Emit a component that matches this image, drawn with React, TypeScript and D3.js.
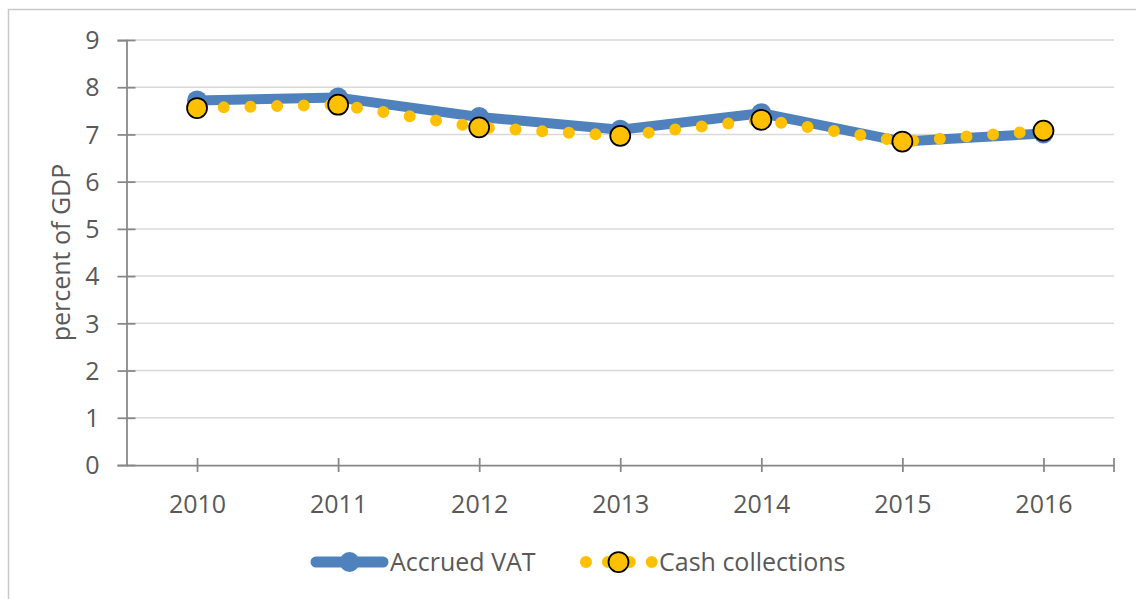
import React, { useRef, useEffect } from "react";
import * as d3 from "d3";

const years = ["2010", "2011", "2012", "2013", "2014", "2015", "2016"];
const accruedVat = [7.72, 7.78, 7.37, 7.1, 7.45, 6.85, 7.02];
const cashCollections = [7.56, 7.63, 7.15, 6.97, 7.31, 6.85, 7.08];
const yTicks = [0, 1, 2, 3, 4, 5, 6, 7, 8, 9];

const BLUE = "#4f81bd";
const GOLD = "#ffc000";
const TEXT = "#595959";
const FONT = "'Open Sans', sans-serif";

const App = () => {
  const svgRef = useRef<SVGSVGElement | null>(null);

  const width = 1136,
    height = 599;
  // plot area
  const left = 126.5,
    right = 1114,
    top = 40,
    bottom = 465;

  useEffect(() => {
    const svg = d3.select(svgRef.current);
    svg.selectAll("*").remove();

    // chart frame (only top / left edges are visible)
    svg
      .append("rect")
      .attr("x", 8.5)
      .attr("y", 9.5)
      .attr("width", 1300)
      .attr("height", 800)
      .attr("fill", "white")
      .attr("stroke", "#c9c9c9")
      .attr("stroke-width", 1.5);

    const x = d3.scalePoint().domain(years).range([left, right]).padding(0.5);
    const y = d3.scaleLinear().domain([0, 9]).range([bottom, top]);

    // gridlines
    svg
      .append("g")
      .selectAll("line")
      .data(yTicks.filter((d) => d > 0))
      .enter()
      .append("line")
      .attr("x1", left)
      .attr("x2", right)
      .attr("y1", (d) => y(d))
      .attr("y2", (d) => y(d))
      .attr("stroke", "#d9d9d9")
      .attr("stroke-width", 1.5);

    // y axis
    const yAxis = svg
      .append("g")
      .attr("transform", `translate(${left},0)`)
      .call(d3.axisLeft(y).tickValues(yTicks).tickSize(9).tickPadding(17).tickFormat(d3.format("d")));
    yAxis.select(".domain").attr("stroke", "#878787").attr("stroke-width", 1.75);
    yAxis
      .selectAll(".tick line")
      .attr("x2", -9)
      .attr("x1", 9)
      .attr("stroke", "#878787")
      .attr("stroke-width", 1.75);
    yAxis
      .selectAll(".tick text")
      .attr("fill", TEXT)
      .attr("font-family", FONT)
      .attr("font-size", 25)
      .attr("x", -27)
      .attr("dy", "0.35em");

    // x axis
    const xAxis = svg
      .append("g")
      .attr("transform", `translate(0,${bottom})`)
      .call(d3.axisBottom(x).tickSize(7).tickPadding(0).tickSizeOuter(0));
    xAxis.select(".domain").attr("stroke", "#878787").attr("stroke-width", 1.75);
    xAxis
      .selectAll(".tick line")
      .attr("y1", -7)
      .attr("y2", 7)
      .attr("stroke", "#878787")
      .attr("stroke-width", 1.75);
    xAxis
      .selectAll(".tick text")
      .attr("fill", TEXT)
      .attr("font-family", FONT)
      .attr("font-size", 25)
      .attr("y", 48)
      .attr("dy", 0);
    // end tick on the right
    xAxis
      .append("line")
      .attr("x1", right)
      .attr("x2", right)
      .attr("y1", -7)
      .attr("y2", 7)
      .attr("stroke", "#878787")
      .attr("stroke-width", 1.75);

    // y label
    svg
      .append("text")
      .attr("transform", `translate(70,${(top + bottom) / 2}) rotate(-90)`)
      .attr("text-anchor", "middle")
      .attr("fill", TEXT)
      .attr("font-family", FONT)
      .attr("font-size", 25)
      .text("percent of GDP");

    const line = d3
      .line<number>()
      .x((_, i) => x(years[i]) as number)
      .y((d) => y(d));

    // Accrued VAT
    svg
      .append("path")
      .datum(accruedVat)
      .attr("d", line)
      .attr("fill", "none")
      .attr("stroke", BLUE)
      .attr("stroke-width", 10)
      .attr("stroke-linejoin", "round");
    svg
      .append("g")
      .selectAll("circle")
      .data(accruedVat)
      .enter()
      .append("circle")
      .attr("cx", (_, i) => x(years[i]) as number)
      .attr("cy", (d) => y(d))
      .attr("r", 10)
      .attr("fill", BLUE);

    // Cash collections
    svg
      .append("path")
      .datum(cashCollections)
      .attr("d", line)
      .attr("fill", "none")
      .attr("stroke", GOLD)
      .attr("stroke-width", 12)
      .attr("stroke-linecap", "round")
      .attr("stroke-dasharray", "0 26.7");
    svg
      .append("g")
      .selectAll("circle")
      .data(cashCollections)
      .enter()
      .append("circle")
      .attr("cx", (_, i) => x(years[i]) as number)
      .attr("cy", (d) => y(d))
      .attr("r", 10)
      .attr("fill", GOLD)
      .attr("stroke", "black")
      .attr("stroke-width", 1.75);

    // legend
    const ly = 562;
    const lg = svg.append("g");
    lg.append("line")
      .attr("x1", 316)
      .attr("x2", 383)
      .attr("y1", ly)
      .attr("y2", ly)
      .attr("stroke", BLUE)
      .attr("stroke-width", 11)
      .attr("stroke-linecap", "round");
    lg.append("circle").attr("cx", 349.5).attr("cy", ly).attr("r", 10).attr("fill", BLUE);
    lg.append("text")
      .attr("x", 390)
      .attr("y", ly)
      .attr("dy", "0.35em")
      .attr("fill", TEXT)
      .attr("font-family", FONT)
      .attr("font-size", 25)
      .text("Accrued VAT");

    lg.append("line")
      .attr("x1", 586)
      .attr("x2", 652)
      .attr("y1", ly)
      .attr("y2", ly)
      .attr("stroke", GOLD)
      .attr("stroke-width", 12)
      .attr("stroke-linecap", "round")
      .attr("stroke-dasharray", "0 21.9");
    lg.append("circle")
      .attr("cx", 618.5)
      .attr("cy", ly)
      .attr("r", 10)
      .attr("fill", GOLD)
      .attr("stroke", "black")
      .attr("stroke-width", 1.75);
    lg.append("text")
      .attr("x", 659)
      .attr("y", ly)
      .attr("dy", "0.35em")
      .attr("fill", TEXT)
      .attr("font-family", FONT)
      .attr("font-size", 25)
      .text("Cash collections");
  }, []);

  return (
    <svg
      ref={svgRef}
      width={width}
      height={height}
      style={{ position: "absolute", left: 0, top: 0, background: "white" }}
    />
  );
};

export default App;
